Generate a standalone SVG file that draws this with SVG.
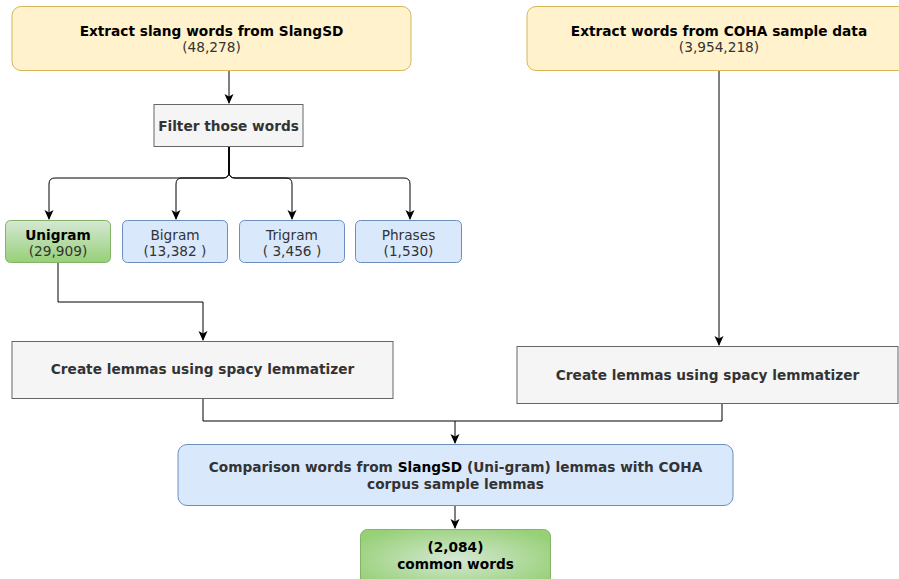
<svg xmlns="http://www.w3.org/2000/svg" width="899" height="579" viewBox="0 0 899 579">
<defs>
<linearGradient id="gUni" x1="0" y1="0" x2="0" y2="1"><stop offset="0" stop-color="#d5e8d4"/><stop offset="1" stop-color="#97d077"/></linearGradient>
<radialGradient id="gCom" cx="0.5" cy="0.5" r="0.6"><stop offset="0" stop-color="#d5e8d4"/><stop offset="1" stop-color="#97d077"/></radialGradient>
<marker id="arr" viewBox="0 0 10 10" refX="9" refY="5" markerWidth="10" markerHeight="10" markerUnits="userSpaceOnUse" orient="auto"><path d="M0,0.5 L10,5 L0,9.5 L2.5,5 Z" fill="#000"/></marker>
<style>
text{font-family:"DejaVu Sans",Verdana,sans-serif;font-size:13.7px;text-anchor:middle}
.b{font-weight:bold}
.k{fill:#000}
.g{fill:#333}
.yel{fill:#fff2cc;stroke:#d6b656;stroke-width:1}
.gry{fill:#f5f5f5;stroke:#666;stroke-width:1}
.blu{fill:#dae8fc;stroke:#6c8ebf;stroke-width:1}
.grn{stroke:#82b366;stroke-width:1}
.c{fill:none;stroke:#000;stroke-width:1}
</style>
</defs>
<g id="connectors">
<path class="c" d="M229 70 V103" marker-end="url(#arr)"/>
<path class="c" d="M229 147 V172 Q229 178 223 178 H55 Q49 178 49 184 V219" marker-end="url(#arr)" stroke-width="1.3"/>
<path class="c" d="M229 147 V172 Q229 178 223 178 H182 Q176 178 176 184 V219" marker-end="url(#arr)" stroke-width="1.3"/>
<path class="c" d="M229 147 V172 Q229 178 235 178 H286 Q292 178 292 184 V219" marker-end="url(#arr)" stroke-width="1.3"/>
<path class="c" d="M229 147 V172 Q229 178 235 178 H404 Q410 178 410 184 V219" marker-end="url(#arr)" stroke-width="1.3"/>
<path class="c" d="M229 147 V172" stroke-width="3"/>
<path class="c" d="M58 263 V302 H203 V340" marker-end="url(#arr)"/>
<path class="c" d="M719 70 V345" marker-end="url(#arr)"/>
<path class="c" d="M203 398 V421 H722 V404"/>
<path class="c" d="M455 421 V443" marker-end="url(#arr)"/>
<path class="c" d="M455 506 V528" marker-end="url(#arr)"/>
</g>
<g id="slangsd">
<rect class="yel" x="12" y="6.5" width="399" height="64" rx="9"/>
<text class="b k" x="211.5" y="36">Extract slang words from SlangSD</text>
<text class="g" x="211.5" y="52">(48,278)</text>
</g>
<g id="coha">
<rect class="yel" x="527" y="6.5" width="390" height="64" rx="9"/>
<text class="b k" x="719" y="36">Extract words from COHA sample data</text>
<text class="g" x="719" y="52">(3,954,218)</text>
</g>
<g id="filter">
<rect class="gry" x="154" y="104.5" width="149" height="42"/>
<text class="b g" x="228.5" y="131">Filter those words</text>
</g>
<g id="unigram">
<rect class="grn" fill="url(#gUni)" x="5.5" y="220.5" width="105" height="42" rx="5"/>
<text class="b k" x="58" y="240">Unigram</text>
<text class="g" x="58" y="256">(29,909)</text>
</g>
<g id="bigram">
<rect class="blu" x="122.5" y="220.5" width="105" height="42" rx="5"/>
<text class="g" x="175" y="240">Bigram</text>
<text class="g" x="175" y="256">(13,382 )</text>
</g>
<g id="trigram">
<rect class="blu" x="239.5" y="220.5" width="105" height="42" rx="5"/>
<text class="g" x="292" y="240">Trigram</text>
<text class="g" x="292" y="256">( 3,456 )</text>
</g>
<g id="phrases">
<rect class="blu" x="355.5" y="220.5" width="106" height="42" rx="5"/>
<text class="g" x="408.5" y="240">Phrases</text>
<text class="g" x="408.5" y="256">(1,530)</text>
</g>
<g id="lemma-left">
<rect class="gry" x="12" y="341.5" width="381" height="57"/>
<text class="b g" x="202.5" y="374">Create lemmas using spacy lemmatizer</text>
</g>
<g id="lemma-right">
<rect class="gry" x="517" y="346.5" width="381" height="57"/>
<text class="b g" x="707.5" y="380">Create lemmas using spacy lemmatizer</text>
</g>
<g id="comparison">
<rect class="blu" x="178" y="444.5" width="555" height="61" rx="9"/>
<text class="b g" x="455.5" y="472">Comparison words from <tspan class="k">SlangSD</tspan> (Uni-gram) lemmas with COHA</text>
<text class="b g" x="455.5" y="489">corpus sample lemmas</text>
</g>
<g id="common">
<rect class="grn" fill="url(#gCom)" x="360.5" y="529.5" width="190" height="60" rx="7"/>
<text class="b k" x="455.5" y="552">(2,084)</text>
<text class="b k" x="455.5" y="569">common words</text>
</g>
</svg>
